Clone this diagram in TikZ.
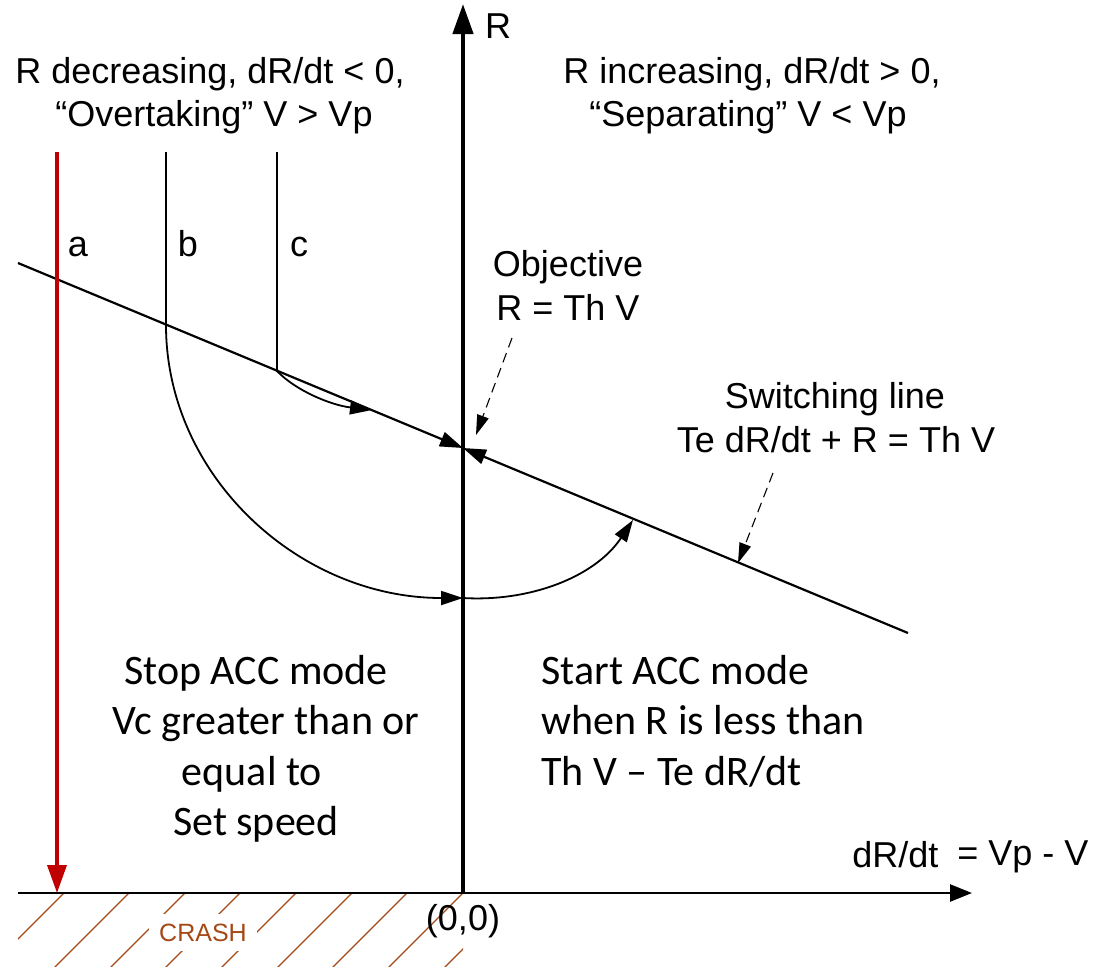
\documentclass[tikz,border=0pt]{standalone}
\usepackage{fontspec}
\setmainfont{Liberation Sans}
\newfontfamily\calfont{Carlito}
\usetikzlibrary{arrows.meta}
\definecolor{accred}{RGB}{192,0,0}
\definecolor{crashc}{RGB}{165,72,22}
\begin{document}
\begin{tikzpicture}[x=0.5pt,y=-0.5pt,
  lbl/.style={inner sep=0pt,font=\fontsize{18}{21}\selectfont},
  cal/.style={inner sep=0pt,font=\calfont\fontsize{21}{25}\selectfont},
  curvearrow/.style={line width=0.9pt,-{Triangle[length=11pt,width=7pt]}},
  swarrow/.style={line width=1.1pt,-{Triangle[length=11.5pt,width=7.5pt]}},
  dasharrow/.style={line width=0.55pt,dash pattern=on 5pt off 3pt,-{Triangle[length=10pt,width=6pt]}},
  hatch/.style={crashc,line width=0.6pt}]
\useasboundingbox (0,0) rectangle (1100,966);
% key points
\coordinate (O) at (463,893);
\coordinate (Rtop) at (463,4);
\coordinate (Xstart) at (18,893);
\coordinate (Xend) at (972,893);
\coordinate (S1) at (18,263);
\coordinate (S2) at (908,633);
\coordinate (P) at (463,448);
\coordinate (A0) at (57,152);
\coordinate (A1) at (57,893);
\coordinate (B0) at (166,152);
\coordinate (B1) at (166,325);
\coordinate (Bm) at (463,598);
\coordinate (Bend) at (633,520);
\coordinate (C0) at (277,152);
\coordinate (C1) at (277,371);
\coordinate (Cend) at (372,410);
% hatching
\begin{scope}
\clip (18,893) rectangle (463,966);
\foreach \xx in {64,129,185,240,296,352,407,463,519}
  \draw[hatch] (\xx,893) -- ++(-90,90);
\end{scope}
\node[inner sep=5pt,fill=white,text=crashc,font=\fontsize{12.5}{14}\selectfont,anchor=base] (crash) at (203,941) {CRASH};
% axes
\draw[line width=1.3pt,-{Triangle[length=11pt,width=8.5pt]}] (Xstart) -- (Xend);
\draw[line width=2.2pt,-{Triangle[length=15pt,width=10pt]}] (O) -- (Rtop);
% switching line
\draw[swarrow] (S1) -- (P);
\draw[swarrow] (S2) -- (P);
% trajectories
\draw[accred,line width=1.8pt,-{Triangle[length=14pt,width=9.5pt]}] (A0) -- (A1);
\draw[curvearrow] (B0) -- (B1) .. controls (166,476) and (299,598) .. (Bm);
\draw[curvearrow] (Bm) .. controls (530,602) and (595,577) .. (Bend);
\draw[curvearrow] (C0) -- (C1) .. controls (295,390) and (330,405) .. (Cend);
% labels
\node[lbl,anchor=base] (Rlab) at (498,38) {R};
\node[lbl,anchor=base] (la) at (78,256) {a};
\node[lbl,anchor=base] (lb) at (188,256) {b};
\node[lbl,anchor=base] (lc) at (299,256) {c};
\node[lbl,anchor=base] (tl1) at (210,83) {R decreasing, dR/dt < 0,};
\node[lbl,anchor=base] (tl2) at (214,126) {“Overtaking” V > Vp};
\node[lbl,anchor=base] (tr1) at (752,83) {R increasing, dR/dt > 0,};
\node[lbl,anchor=base] (tr2) at (748,126) {“Separating” V < Vp};
\node[lbl,anchor=base] (obj1) at (568,276) {Objective};
\node[lbl,anchor=base] (obj2) at (568,320) {R = Th V};
\node[lbl,anchor=base] (sw1) at (835,408) {Switching line};
\node[lbl,anchor=base] (sw2) at (836,452) {Te dR/dt + R = Th V};
\coordinate (objfrom) at (512,338);
\coordinate (objto) at (476,435);
\coordinate (swfrom) at (773,473);
\coordinate (swto) at (738,563);
\draw[dasharrow] (objfrom) -- (objto);
\draw[dasharrow] (swfrom) -- (swto);
\node[lbl,anchor=base west] (xl1) at (852,867) {dR/dt};
\node[lbl,anchor=base west] (xl2) at (957,865) {= Vp - V};
\node[lbl,anchor=base] (orig) at (463,930) {(0,0)};
% lower texts
\node[cal,anchor=base] (st1) at (256,684) {Stop ACC mode};
\node[cal,anchor=base] (st2) at (266,734) {Vc greater than or};
\node[cal,anchor=base] (st3) at (252,785) {equal to};
\node[cal,anchor=base] (st4) at (256,835) {Set speed};
\node[cal,anchor=base west] (sa1) at (541,684) {Start ACC mode};
\node[cal,anchor=base west] (sa2) at (541,734) {when R is less than};
\node[cal,anchor=base west] (sa3) at (541,785) {Th V – Te dR/dt};
\end{tikzpicture}
\end{document}
